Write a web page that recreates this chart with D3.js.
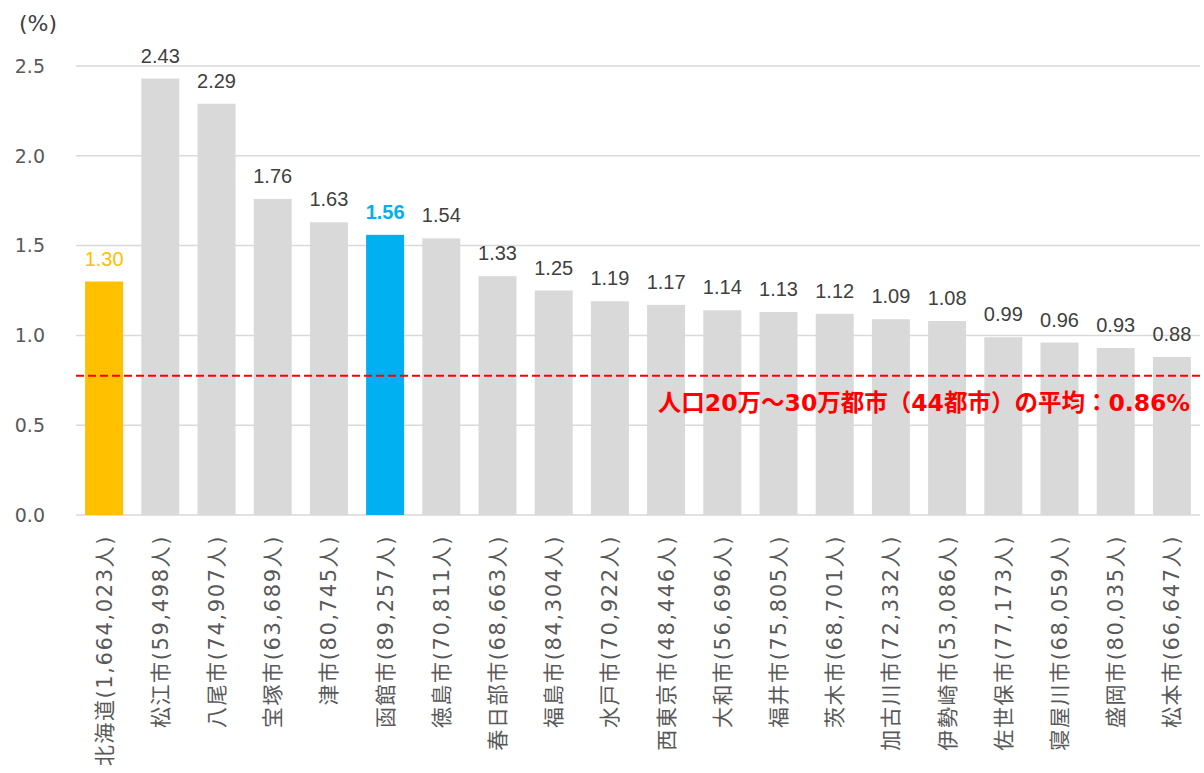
<!DOCTYPE html>
<html>
<head>
<meta charset="utf-8">
<script src="https://cdn.jsdelivr.net/npm/d3@7"></script>
<style>
  body { margin: 0; background: #fff; }
  text { font-family: "DejaVu Sans", "Noto Sans CJK JP", sans-serif; }
</style>
</head>
<body>
<div id="chart"></div>
<script>
// data
var cities = ["北海道(1,664,023人)", "松江市(59,498人)", "八尾市(74,907人)", "宝塚市(63,689人)",
  "津市(80,745人)", "函館市(89,257人)", "徳島市(70,811人)", "春日部市(68,663人)",
  "福島市(84,304人)", "水戸市(70,922人)", "西東京市(48,446人)", "大和市(56,696人)",
  "福井市(75,805人)", "茨木市(68,701人)", "加古川市(72,332人)", "伊勢崎市(53,086人)",
  "佐世保市(77,173人)", "寝屋川市(68,059人)", "盛岡市(80,035人)", "松本市(66,647人)"];
var rates = [1.30, 2.43, 2.29, 1.76, 1.63, 1.56, 1.54, 1.33, 1.25, 1.19,
  1.17, 1.14, 1.13, 1.12, 1.09, 1.08, 0.99, 0.96, 0.93, 0.88];
var yTicks = [0.0, 0.5, 1.0, 1.5, 2.0, 2.5];
var avgLine = 0.775;   // where the dashed line sits in the picture
var avgLabel = "人口20万～30万都市（44都市）の平均：0.86%";

var W = 1204, H = 773;
var margin = {top: 66, right: 4, bottom: 258, left: 76};
var width = W - margin.left - margin.right,
    height = H - margin.top - margin.bottom;

var svg = d3.select("#chart").append("svg")
    .attr("width", W).attr("height", H);
var g = svg.append("g")
    .attr("transform", "translate(" + margin.left + "," + margin.top + ")");

var x = d3.scaleBand().domain(cities).range([0, width]).paddingInner(0.324).paddingOuter(0.162);
var y = d3.scaleLinear().domain([0, 2.5]).range([height, 0]);

// gridlines
g.selectAll(".grid").data(yTicks).enter().append("line")
    .attr("x1", 0).attr("x2", width)
    .attr("y1", function(d) { return y(d); })
    .attr("y2", function(d) { return y(d); })
    .attr("stroke", "#d9d9d9").attr("stroke-width", 1.5);

// y tick labels
g.selectAll(".ytick").data(yTicks).enter().append("text")
    .attr("x", -31).attr("y", function(d) { return y(d); })
    .attr("dy", "0.36em")
    .attr("text-anchor", "end")
    .style("font-size", "19px")
    .attr("fill", "#595959")
    .text(function(d) { return d.toFixed(1); });

svg.append("text")
    .attr("x", 19).attr("y", 31)
    .style("font-size", "22px").attr("fill", "#404040")
    .text("(%)");

function barColor(i) {
  if (i === 0) return "#ffc000";
  if (i === 5) return "#00b0f0";
  return "#d9d9d9";
}
function labelColor(i) {
  if (i === 0) return "#ffc000";
  if (i === 5) return "#00b0f0";
  return "#404040";
}

g.selectAll(".bar").data(rates).enter().append("rect")
    .attr("x", function(d, i) { return x(cities[i]); })
    .attr("width", x.bandwidth())
    .attr("y", function(d) { return y(d); })
    .attr("height", function(d) { return height - y(d); })
    .attr("fill", function(d, i) { return barColor(i); });

// value labels
g.selectAll(".val").data(rates).enter().append("text")
    .attr("x", function(d, i) { return x(cities[i]) + x.bandwidth() / 2; })
    .attr("y", function(d) { return y(d) - 16; })
    .attr("text-anchor", "middle")
    .style("font-family", "'Liberation Sans Narrow', 'Arial Narrow', 'Liberation Sans', sans-serif")
    .style("font-size", "20px")
    .style("font-weight", function(d, i) { return i === 5 ? "bold" : "normal"; })
    .attr("fill", function(d, i) { return labelColor(i); })
    .text(function(d) { return d.toFixed(2); });

// category labels, rotated
g.selectAll(".cat").data(cities).enter().append("text")
    .attr("transform", function(d) {
      return "translate(" + (x(d) + x.bandwidth() / 2) + "," + (height + 20) + ") rotate(-90)";
    })
    .attr("dy", "0.36em")
    .attr("text-anchor", "end")
    .style("font-size", "21px")
    .style("letter-spacing", "1.6px")
    .attr("fill", "#595959")
    .text(function(d) { return d; });

// average line
g.append("line")
    .attr("x1", 0).attr("x2", width)
    .attr("y1", y(avgLine)).attr("y2", y(avgLine))
    .attr("stroke", "#ff0000").attr("stroke-width", 2)
    .attr("stroke-dasharray", "8,4");

g.append("text")
    .attr("x", width - 10).attr("y", y(avgLine) + 35)
    .attr("text-anchor", "end")
    .style("font-size", "23.5px").style("font-weight", "bold")
    .attr("fill", "#ff0000")
    .text(avgLabel);
</script>
</body>
</html>
